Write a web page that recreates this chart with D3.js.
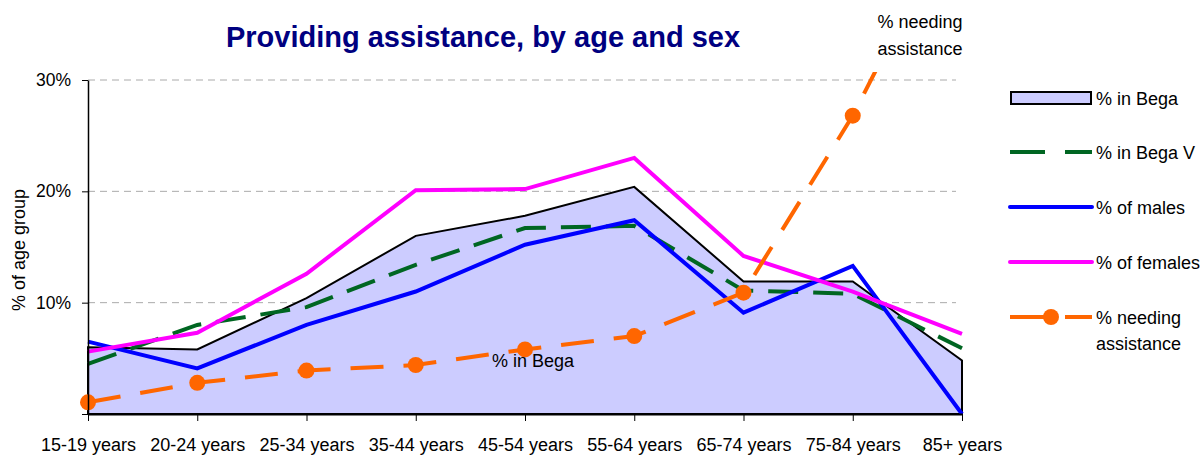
<!DOCTYPE html>
<html>
<head>
<meta charset="utf-8">
<script src="https://cdnjs.cloudflare.com/ajax/libs/d3/7.8.5/d3.min.js"></script>
<style>
body { margin: 0; background: #fff; }
text { font-family: "Liberation Sans", Arial, sans-serif; }
</style>
</head>
<body>
<div id="chart"></div>
<script>
var categories = ["15-19 years", "20-24 years", "25-34 years", "35-44 years", "45-54 years",
                  "55-64 years", "65-74 years", "75-84 years", "85+ years"];
var inBega = [6.0, 5.8, 10.4, 16.0, 17.8, 20.4, 11.9, 11.9, 4.8];
var inBegaV = [4.5, 8.0, 9.6, 13.4, 16.7, 16.9, 11.1, 10.8, 5.9];
var males = [6.5, 4.1, 8.0, 11.0, 15.2, 17.4, 9.1, 13.3, 0];
var females = [5.6, 7.3, 12.6, 20.1, 20.2, 23.0, 14.2, 11.0, 7.2];
var needing = [1.05, 2.8, 3.9, 4.4, 5.8, 7.0, 10.9, 26.8, 46];
var yTicks = [10, 20, 30];

var width = 1200, height = 456;
var plotLeft = 88, plotRight = 962, plotTop = 80, plotBottom = 414;

var svg = d3.select("#chart").append("svg")
    .attr("width", width)
    .attr("height", height);

var x = d3.scalePoint().domain(categories).range([plotLeft, plotRight]).padding(0);
var y = d3.scaleLinear().domain([0, 30]).range([plotBottom, plotTop]);

// title
svg.append("text")
    .attr("x", 483).attr("y", 47)
    .attr("text-anchor", "middle")
    .style("font-size", "29px").style("font-weight", "bold")
    .style("fill", "#000080")
    .text("Providing assistance, by age and sex");

// gridlines
svg.append("g").selectAll("line")
    .data(yTicks)
    .enter().append("line")
    .attr("x1", plotLeft).attr("x2", plotRight - 6)
    .attr("y1", function(d) { return y(d); })
    .attr("y2", function(d) { return y(d); })
    .style("stroke", "#aaa").style("stroke-width", 1)
    .style("stroke-dasharray", "7,5");

var rows = categories.map(function(c, i) {
    return {cat: c, bega: inBega[i], begaV: inBegaV[i], m: males[i], f: females[i], n: needing[i]};
});

// area for % in Bega
var area = d3.area()
    .x(function(d) { return x(d.cat); })
    .y0(y(0))
    .y1(function(d) { return y(d.bega); });
svg.append("path")
    .datum(rows)
    .attr("d", area)
    .style("fill", "#ccccff")
    .style("stroke", "#000")
    .style("stroke-width", 2);

svg.append("clipPath").attr("id", "plotclip")
    .append("rect").attr("x", 0).attr("y", plotTop - 8)
    .attr("width", plotRight + 10).attr("height", plotBottom - plotTop + 20);

function lineFor(key) {
    return d3.line()
        .x(function(d) { return x(d.cat); })
        .y(function(d) { return y(d[key]); });
}

var plot = svg.append("g").attr("clip-path", "url(#plotclip)");

plot.append("path").datum(rows).attr("d", lineFor("begaV"))
    .style("fill", "none").style("stroke", "#006622").style("stroke-width", 4)
    .style("stroke-dasharray", "30,15");
plot.append("path").datum(rows).attr("d", lineFor("m"))
    .style("fill", "none").style("stroke", "#0000ff").style("stroke-width", 4);
plot.append("path").datum(rows).attr("d", lineFor("f"))
    .style("fill", "none").style("stroke", "#ff00ff").style("stroke-width", 4);
plot.append("path").datum(rows).attr("d", lineFor("n"))
    .style("fill", "none").style("stroke", "#ff6600").style("stroke-width", 4)
    .style("stroke-dasharray", "33,20");
plot.selectAll("circle.dot")
    .data(rows.filter(function(d) { return d.n <= 30; }))
    .enter().append("circle")
    .attr("class", "dot")
    .attr("cx", function(d) { return x(d.cat); })
    .attr("cy", function(d) { return y(d.n); })
    .attr("r", 8)
    .style("fill", "#ff6600");

// axes
var yAxis = svg.append("g")
    .attr("transform", "translate(" + plotLeft + ",0)")
    .call(d3.axisLeft(y).tickValues([0, 10, 20, 30]).tickSize(6).tickSizeOuter(0)
        .tickFormat(function(d) { return d === 0 ? "" : d + "%"; }));
yAxis.select(".domain").style("stroke", "#000").style("stroke-width", 1.5);
yAxis.selectAll("text").style("font-size", "17.5px").style("fill", "#000").attr("x", -17);

var xAxis = svg.append("g")
    .attr("transform", "translate(0," + plotBottom + ")")
    .call(d3.axisBottom(x).tickSize(7).tickSizeOuter(0));
xAxis.select(".domain").style("stroke", "#000").style("stroke-width", 2);
xAxis.selectAll("text").style("font-size", "18px").style("fill", "#000").attr("y", 24);

svg.append("text")
    .attr("transform", "translate(25,250) rotate(-90)")
    .attr("text-anchor", "middle")
    .style("font-size", "18px")
    .text("% of age group");

// data labels
svg.append("text").attr("x", 533).attr("y", 367).attr("text-anchor", "middle")
    .style("font-size", "18px").text("% in Bega");
svg.append("text").attr("x", 920).attr("y", 28).attr("text-anchor", "middle")
    .style("font-size", "18px").text("% needing");
svg.append("text").attr("x", 920).attr("y", 55).attr("text-anchor", "middle")
    .style("font-size", "18px").text("assistance");

// legend
var legendY = [98, 152, 207, 262, 317];
var lg = svg.append("g");
lg.append("rect").attr("x", 1011).attr("y", legendY[0] - 6).attr("width", 80).attr("height", 12)
    .style("fill", "#ccccff").style("stroke", "#000").style("stroke-width", 2);
lg.append("line").attr("x1", 1010).attr("x2", 1092).attr("y1", legendY[1]).attr("y2", legendY[1])
    .style("stroke", "#006622").style("stroke-width", 4).style("stroke-dasharray", "35,20");
lg.append("line").attr("x1", 1010).attr("x2", 1092).attr("y1", legendY[2]).attr("y2", legendY[2])
    .style("stroke", "#0000ff").style("stroke-width", 4).style("stroke-linecap", "round");
lg.append("line").attr("x1", 1010).attr("x2", 1092).attr("y1", legendY[3]).attr("y2", legendY[3])
    .style("stroke", "#ff00ff").style("stroke-width", 4).style("stroke-linecap", "round");
lg.append("line").attr("x1", 1010).attr("x2", 1092).attr("y1", legendY[4]).attr("y2", legendY[4])
    .style("stroke", "#ff6600").style("stroke-width", 4).style("stroke-dasharray", "48,7");
lg.append("circle").attr("cx", 1051).attr("cy", legendY[4]).attr("r", 8).style("fill", "#ff6600");

var names = ["% in Bega", "% in Bega V", "% of males", "% of females", "% needing"];
lg.selectAll("text.lab").data(names).enter().append("text")
    .attr("class", "lab")
    .attr("x", 1096)
    .attr("y", function(d, i) { return legendY[i] + 7; })
    .style("font-size", "18px")
    .text(function(d) { return d; });
lg.append("text").attr("x", 1096).attr("y", legendY[4] + 33)
    .style("font-size", "18px").text("assistance");
</script>
</body>
</html>
